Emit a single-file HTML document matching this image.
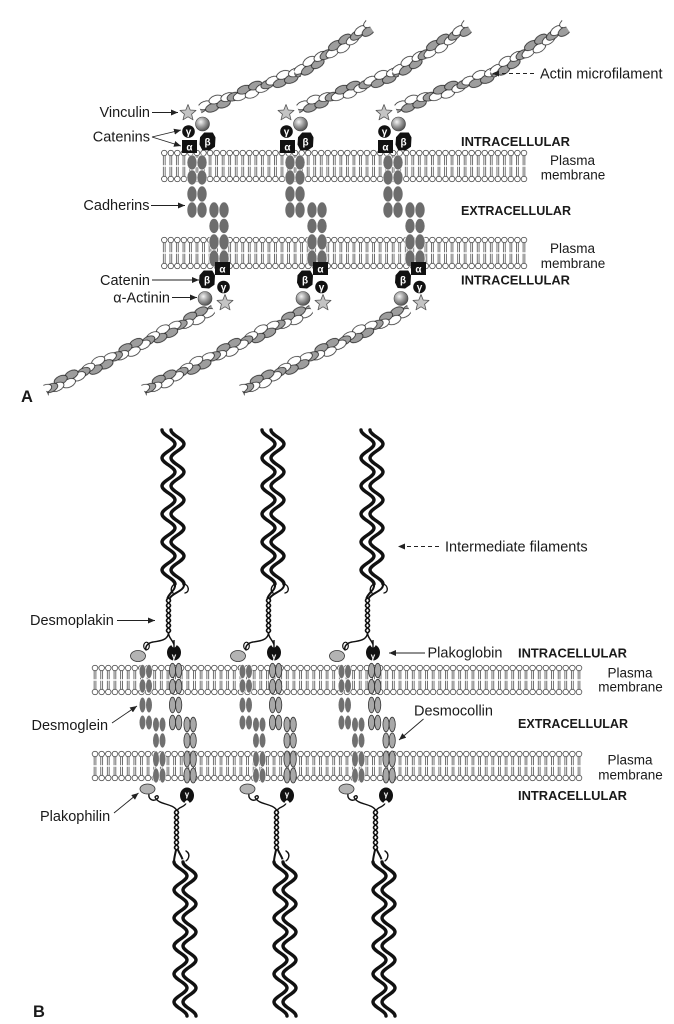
<!DOCTYPE html>
<html><head><meta charset="utf-8"><style>html,body{margin:0;padding:0;background:#fff}svg{display:block}</style></head>
<body>
<svg width="674" height="1024" viewBox="0 0 674 1024" xmlns="http://www.w3.org/2000/svg" xmlns:xlink="http://www.w3.org/1999/xlink" font-family="'Liberation Sans', Arial, sans-serif">
<defs>
  <radialGradient id="sph" cx="0.38" cy="0.35" r="0.65">
    <stop offset="0" stop-color="#f4f4f4"/><stop offset="0.5" stop-color="#a0a0a0"/><stop offset="1" stop-color="#555"/>
  </radialGradient>
  <marker id="ah" markerUnits="userSpaceOnUse" markerWidth="7" markerHeight="6" viewBox="0 0 7 6" refX="7" refY="3" orient="auto">
    <path d="M0,0 L7,3 L0,6 Z" fill="#222"/>
  </marker>
  <pattern id="actin" patternUnits="userSpaceOnUse" x="0" y="-10" width="72" height="20">
    <g stroke="#222" stroke-width="0.8">
      <ellipse cx="-6" cy="11.75" rx="7" ry="4" fill="#fff"/>
      <ellipse cx="0" cy="10" rx="7" ry="4" fill="#9d9d9d"/>
      <ellipse cx="6" cy="8.25" rx="7" ry="4" fill="#fff"/>
      <ellipse cx="12" cy="13.03" rx="7" ry="4" fill="#9d9d9d"/>
      <ellipse cx="18" cy="6.5" rx="7" ry="4" fill="#fff"/>
      <ellipse cx="24" cy="13.03" rx="7" ry="4" fill="#9d9d9d"/>
      <ellipse cx="30" cy="8.25" rx="7" ry="4" fill="#fff"/>
      <ellipse cx="36" cy="10" rx="7" ry="4" fill="#9d9d9d"/>
      <ellipse cx="42" cy="11.75" rx="7" ry="4" fill="#fff"/>
      <ellipse cx="48" cy="6.97" rx="7" ry="4" fill="#9d9d9d"/>
      <ellipse cx="54" cy="13.5" rx="7" ry="4" fill="#fff"/>
      <ellipse cx="60" cy="6.97" rx="7" ry="4" fill="#9d9d9d"/>
      <ellipse cx="66" cy="11.75" rx="7" ry="4" fill="#fff"/>
      <ellipse cx="72" cy="10" rx="7" ry="4" fill="#9d9d9d"/>
      <ellipse cx="78" cy="8.25" rx="7" ry="4" fill="#fff"/>
    </g>
  </pattern>
  <pattern id="memA" patternUnits="userSpaceOnUse" x="0" y="0" width="6.54" height="34">
    <path d="M2.4,6.9V16.2M4.15,6.9V16.2M2.4,17.8V27.1M4.15,17.8V27.1" stroke="#444" stroke-width="0.75"/>
    <circle cx="3.27" cy="4" r="2.75" fill="#fff" stroke="#333" stroke-width="0.7"/>
    <circle cx="3.27" cy="30" r="2.75" fill="#fff" stroke="#333" stroke-width="0.7"/>
  </pattern>
  <pattern id="memB" patternUnits="userSpaceOnUse" x="0" y="0" width="6.63" height="32">
    <path d="M2.45,6.9V15.2M4.2,6.9V15.2M2.45,16.8V25.1M4.2,16.8V25.1" stroke="#444" stroke-width="0.75"/>
    <circle cx="3.315" cy="4" r="2.75" fill="#fff" stroke="#333" stroke-width="0.7"/>
    <circle cx="3.315" cy="28" r="2.75" fill="#fff" stroke="#333" stroke-width="0.7"/>
  </pattern>
  <polygon id="star" points="0,-8.5 2.2,-3 8,-2.6 3.6,1.2 5,6.8 0,3.8 -5,6.8 -3.6,1.2 -8,-2.6 -2.2,-3" fill="#c4c4c4" stroke="#555" stroke-width="0.8" stroke-linejoin="round"/>
  <polygon id="beta" points="-7,-4 -3,-8.5 5,-8.5 7.5,-4 7,5 2,8.5 -5,8 -7.5,3" fill="#111" stroke="#111" stroke-width="1" stroke-linejoin="round"/>
  <path id="wave" fill="none" stroke-linecap="round" d="M-6.5,0 C-6.5,5.1 6.5,8.9 6.5,14 s-13,8.9 -13,14 s13,8.9 13,14 s-13,8.9 -13,14 s13,8.9 13,14 s-13,8.9 -13,14 s13,8.9 13,14 s-13,8.9 -13,14 s13,8.9 13,14 s-13,8.9 -13,14 s13,8.9 13,14"/>
  <g id="fil">
    <use xlink:href="#wave" href="#wave" x="-0.5" stroke="#111" stroke-width="3.4"/>
    <use xlink:href="#wave" href="#wave" x="8.5" stroke="#fff" stroke-width="5.6"/>
    <use xlink:href="#wave" href="#wave" x="8.5" stroke="#111" stroke-width="3.4"/>
  </g>

  <g id="unitA">
    <g transform="translate(200,109) rotate(-20.03)"><rect x="0" y="-10" width="106" height="20" fill="url(#actin)"/></g>
    <g transform="translate(296,74) rotate(-32.57)"><rect x="0" y="-10" width="88" height="20" fill="url(#actin)"/></g>
    <g transform="translate(213,309) rotate(154)"><rect x="0" y="-10" width="186" height="20" fill="url(#actin)"/></g>
    <g fill="#6d6d6d" stroke="#fff" stroke-width="0.6">
      <ellipse cx="192" cy="162.5" rx="5" ry="7.5"/><ellipse cx="202" cy="162.5" rx="5" ry="7.5"/>
      <ellipse cx="192" cy="177.5" rx="5" ry="7.5"/><ellipse cx="202" cy="177.5" rx="5" ry="7.5"/>
      <ellipse cx="192" cy="194" rx="5" ry="8"/><ellipse cx="202" cy="194" rx="5" ry="8"/>
      <ellipse cx="192" cy="210" rx="5" ry="8"/><ellipse cx="202" cy="210" rx="5" ry="8"/>
      <ellipse cx="214" cy="210" rx="5" ry="8"/><ellipse cx="224" cy="210" rx="5" ry="8"/>
      <ellipse cx="214" cy="226" rx="5" ry="7.5"/><ellipse cx="224" cy="226" rx="5" ry="7.5"/>
      <ellipse cx="214" cy="242" rx="5" ry="8"/><ellipse cx="224" cy="242" rx="5" ry="8"/>
      <ellipse cx="214" cy="258.5" rx="5" ry="8.5"/><ellipse cx="224" cy="258.5" rx="5" ry="8.5"/>
    </g>
    <use xlink:href="#star" href="#star" transform="translate(188,113)"/>
    <circle cx="202.5" cy="124" r="7" fill="url(#sph)" stroke="#444" stroke-width="0.6"/>
    <circle cx="188.5" cy="131.5" r="6.3" fill="#111"/>
    <rect x="182" y="140" width="15" height="13" fill="#111"/>
    <use xlink:href="#beta" href="#beta" transform="translate(207.5,141.5)"/>
    <g fill="#fff" font-size="10" font-weight="bold" text-anchor="middle">
      <text x="188.5" y="135">γ</text>
      <text x="189.5" y="150.5">α</text>
      <text x="207.5" y="145.5">β</text>
    </g>
    <rect x="215" y="262" width="15" height="13" fill="#111"/>
    <use xlink:href="#beta" href="#beta" transform="translate(207,279.5)"/>
    <circle cx="205" cy="298.5" r="7" fill="url(#sph)" stroke="#444" stroke-width="0.6"/>
    <use xlink:href="#star" href="#star" transform="translate(225,303)"/>
    <circle cx="223.5" cy="287" r="6.3" fill="#111"/>
    <g fill="#fff" font-size="10" font-weight="bold" text-anchor="middle">
      <text x="222.5" y="272.5">α</text>
      <text x="207" y="283.5">β</text>
      <text x="223.5" y="290.5">γ</text>
    </g>
  </g>

  <g id="unitB">
    <use xlink:href="#fil" href="#fil" transform="translate(169,430)"/>
    <g fill="none" stroke="#111" stroke-linecap="round">
      <path d="M175,584 C176,590 170,592 167.5,598" stroke-width="2"/>
      <path d="M184,584 C185,591 172,593 170,598" stroke-width="2"/>
      <path d="M184,584 c5,1 6,8 1,9" stroke-width="1.4"/>
      <path d="M175,584 c-4,2 -5,7 -2,9" stroke-width="1.4"/>
      <path d="M168.5,598 q4,2.5 0,5 t0,5 t0,5 t0,5 t0,5 t0,5 t0,5" stroke-width="1.6"/>
      <path d="M168.5,598 q-4,2.5 0,5 t0,5 t0,5 t0,5 t0,5 t0,5 t0,5" stroke-width="1.6"/>
      <path d="M168.5,633 C168,640 160,641 153,642 C148,643 145,646 146,650" stroke-width="1.5"/>
      <ellipse cx="146.5" cy="646" rx="2.8" ry="3.8" stroke-width="1.2"/>
      <path d="M168.5,633 C169,639 173,640 174,645" stroke-width="1.5"/>
    </g>
    <ellipse cx="138" cy="656" rx="7.5" ry="5.5" fill="#b3b3b3" stroke="#333" stroke-width="0.8"/>
    <ellipse cx="174" cy="652.5" rx="7" ry="8" fill="#111"/>
    <path d="M171,644.5 Q174,651 177,644.5 Z" fill="#fff"/>
    <path d="M174,640 V649" stroke="#111" stroke-width="1.4"/>
    <text x="174" y="659" fill="#fff" font-size="8" font-weight="bold" text-anchor="middle">γ</text>
    <g fill="#707070" stroke="#fff" stroke-width="0.6">
      <ellipse cx="142.5" cy="671.5" rx="3.3" ry="7"/><ellipse cx="149" cy="671.5" rx="3.3" ry="7"/>
      <ellipse cx="142.5" cy="686" rx="3.3" ry="7"/><ellipse cx="149" cy="686" rx="3.3" ry="7"/>
      <ellipse cx="142.5" cy="705" rx="3.3" ry="7.8"/><ellipse cx="149" cy="705" rx="3.3" ry="7.8"/>
      <ellipse cx="142.5" cy="722.5" rx="3.3" ry="7.3"/><ellipse cx="149" cy="722.5" rx="3.3" ry="7.3"/>
      <ellipse cx="156" cy="724.5" rx="3.3" ry="7.3"/><ellipse cx="162.5" cy="724.5" rx="3.3" ry="7.3"/>
      <ellipse cx="156" cy="740.5" rx="3.3" ry="7.5"/><ellipse cx="162.5" cy="740.5" rx="3.3" ry="7.5"/>
      <ellipse cx="156" cy="759" rx="3.3" ry="8"/><ellipse cx="162.5" cy="759" rx="3.3" ry="8"/>
      <ellipse cx="156" cy="775.5" rx="3.3" ry="7.5"/><ellipse cx="162.5" cy="775.5" rx="3.3" ry="7.5"/>
    </g>
    <g fill="#a8a8a8" stroke="#333" stroke-width="0.8">
      <ellipse cx="172.5" cy="670.5" rx="3.1" ry="7.2"/><ellipse cx="178.7" cy="670.5" rx="3.1" ry="7.2"/>
      <ellipse cx="172.5" cy="686.5" rx="3.1" ry="7.2"/><ellipse cx="178.7" cy="686.5" rx="3.1" ry="7.2"/>
      <ellipse cx="172.5" cy="705" rx="3.1" ry="7.8"/><ellipse cx="178.7" cy="705" rx="3.1" ry="7.8"/>
      <ellipse cx="172.5" cy="722.5" rx="3.1" ry="7.3"/><ellipse cx="178.7" cy="722.5" rx="3.1" ry="7.3"/>
      <ellipse cx="187" cy="724.5" rx="3.1" ry="7.3"/><ellipse cx="193.2" cy="724.5" rx="3.1" ry="7.3"/>
      <ellipse cx="187" cy="740.5" rx="3.1" ry="7.5"/><ellipse cx="193.2" cy="740.5" rx="3.1" ry="7.5"/>
      <ellipse cx="187" cy="759" rx="3.1" ry="8"/><ellipse cx="193.2" cy="759" rx="3.1" ry="8"/>
      <ellipse cx="187" cy="775.5" rx="3.1" ry="7.5"/><ellipse cx="193.2" cy="775.5" rx="3.1" ry="7.5"/>
    </g>
    <g fill="none" stroke="#111" stroke-linecap="round">
      <path d="M149,794 c-1,5 4,8 8,5 c3,-2 0,-5 -2,-2 C158,805 172,803 176.5,810" stroke-width="1.4"/>
      <path d="M186,803 C185,807 179,807 177.5,810" stroke-width="1.4"/>
      <path d="M176.5,810 q4,2.5 0,5 t0,5 t0,5 t0,5 t0,5 t0,5 t0,5 t0,5" stroke-width="1.6"/>
      <path d="M176.5,810 q-4,2.5 0,5 t0,5 t0,5 t0,5 t0,5 t0,5 t0,5 t0,5" stroke-width="1.6"/>
      <path d="M176,850 C175,855 174,858 174,862" stroke-width="2"/>
      <path d="M178,850 C180,855 183,858 183,862" stroke-width="2"/>
      <path d="M183,862 c6,-1 8,-8 3,-11" stroke-width="1.4"/>
    </g>
    <ellipse cx="147.5" cy="789" rx="7.5" ry="5" fill="#b3b3b3" stroke="#333" stroke-width="0.8"/>
    <ellipse cx="187" cy="795.5" rx="7" ry="8" fill="#111"/>
    <path d="M184,803.5 Q187,797 190,803.5 Z" fill="#fff"/>
    <text x="187" y="797" fill="#fff" font-size="8" font-weight="bold" text-anchor="middle">γ</text>
    <use xlink:href="#fil" href="#fil" transform="translate(181,862)"/>
  </g>
</defs>

<rect width="674" height="1024" fill="#fff"/>

<rect x="0" y="0" width="366.2" height="34" fill="url(#memA)" transform="translate(161,149)"/>
<rect x="0" y="0" width="366.2" height="34" fill="url(#memA)" transform="translate(161,236)"/>
<use xlink:href="#unitA" href="#unitA"/>
<use xlink:href="#unitA" href="#unitA" x="98"/>
<use xlink:href="#unitA" href="#unitA" x="196"/>

<g fill="#1a1a1a" font-size="14.5">
  <text x="150" y="117" text-anchor="end">Vinculin</text>
  <text x="150" y="141.5" text-anchor="end">Catenins</text>
  <text x="149.5" y="210" text-anchor="end">Cadherins</text>
  <text x="150" y="285" text-anchor="end">Catenin</text>
  <text x="170" y="302.5" text-anchor="end">α-Actinin</text>
  <text x="540" y="78.5">Actin microfilament</text>
</g>
<g stroke="#222" stroke-width="0.9" fill="none" marker-end="url(#ah)">
  <line x1="152" y1="112.5" x2="178" y2="112.5"/>
  <line x1="152" y1="137" x2="181" y2="130"/>
  <line x1="152" y1="137" x2="181" y2="146"/>
  <line x1="151" y1="205.5" x2="185" y2="205.5"/>
  <line x1="152" y1="280" x2="199" y2="280"/>
  <line x1="172" y1="297.5" x2="197" y2="297.5"/>
  <line x1="534" y1="73.5" x2="492" y2="73.5" stroke-dasharray="4,3"/>
</g>
<g fill="#1a1a1a">
  <text x="461" y="146" font-size="12.5" font-weight="bold" textLength="109" lengthAdjust="spacingAndGlyphs">INTRACELLULAR</text>
  <text x="461" y="215" font-size="12.5" font-weight="bold" textLength="110" lengthAdjust="spacingAndGlyphs">EXTRACELLULAR</text>
  <text x="461" y="284.5" font-size="12.5" font-weight="bold" textLength="109" lengthAdjust="spacingAndGlyphs">INTRACELLULAR</text>
  <g font-size="13.5" text-anchor="middle">
    <text x="572.5" y="165">Plasma</text>
    <text x="573" y="179.5">membrane</text>
    <text x="572.5" y="253">Plasma</text>
    <text x="573" y="268">membrane</text>
  </g>
  <text x="21" y="402" font-size="16.5" font-weight="bold">A</text>
</g>

<rect x="0" y="0" width="490.6" height="32" fill="url(#memB)" transform="translate(91.7,664)"/>
<rect x="0" y="0" width="490.6" height="32" fill="url(#memB)" transform="translate(91.7,750)"/>
<use xlink:href="#unitB" href="#unitB"/>
<use xlink:href="#unitB" href="#unitB" x="100"/>
<use xlink:href="#unitB" href="#unitB" x="199"/>

<g fill="#1a1a1a" font-size="14.5">
  <text x="445" y="551.5">Intermediate filaments</text>
  <text x="30" y="625">Desmoplakin</text>
  <text x="31.5" y="730">Desmoglein</text>
  <text x="40" y="821">Plakophilin</text>
  <text x="427.5" y="657.5">Plakoglobin</text>
  <text x="414" y="715.5">Desmocollin</text>
</g>
<g stroke="#222" stroke-width="0.9" fill="none" marker-end="url(#ah)">
  <line x1="439" y1="546.5" x2="398" y2="546.5" stroke-dasharray="4,3"/>
  <line x1="117" y1="620.5" x2="155" y2="620.5"/>
  <line x1="112" y1="723" x2="137" y2="706"/>
  <line x1="114" y1="813" x2="138.5" y2="793"/>
  <line x1="425" y1="653" x2="389" y2="653"/>
  <line x1="423.5" y1="719" x2="399" y2="740"/>
</g>
<g fill="#1a1a1a">
  <text x="518" y="657.5" font-size="12.5" font-weight="bold" textLength="109" lengthAdjust="spacingAndGlyphs">INTRACELLULAR</text>
  <text x="518" y="728" font-size="12.5" font-weight="bold" textLength="110" lengthAdjust="spacingAndGlyphs">EXTRACELLULAR</text>
  <text x="518" y="800" font-size="12.5" font-weight="bold" textLength="109" lengthAdjust="spacingAndGlyphs">INTRACELLULAR</text>
  <g font-size="13.5" text-anchor="middle">
    <text x="630" y="677.5">Plasma</text>
    <text x="630.5" y="691.5">membrane</text>
    <text x="630" y="764.5">Plasma</text>
    <text x="630.5" y="779.5">membrane</text>
  </g>
  <text x="33" y="1017" font-size="16.5" font-weight="bold">B</text>
</g>
</svg>
</body></html>
